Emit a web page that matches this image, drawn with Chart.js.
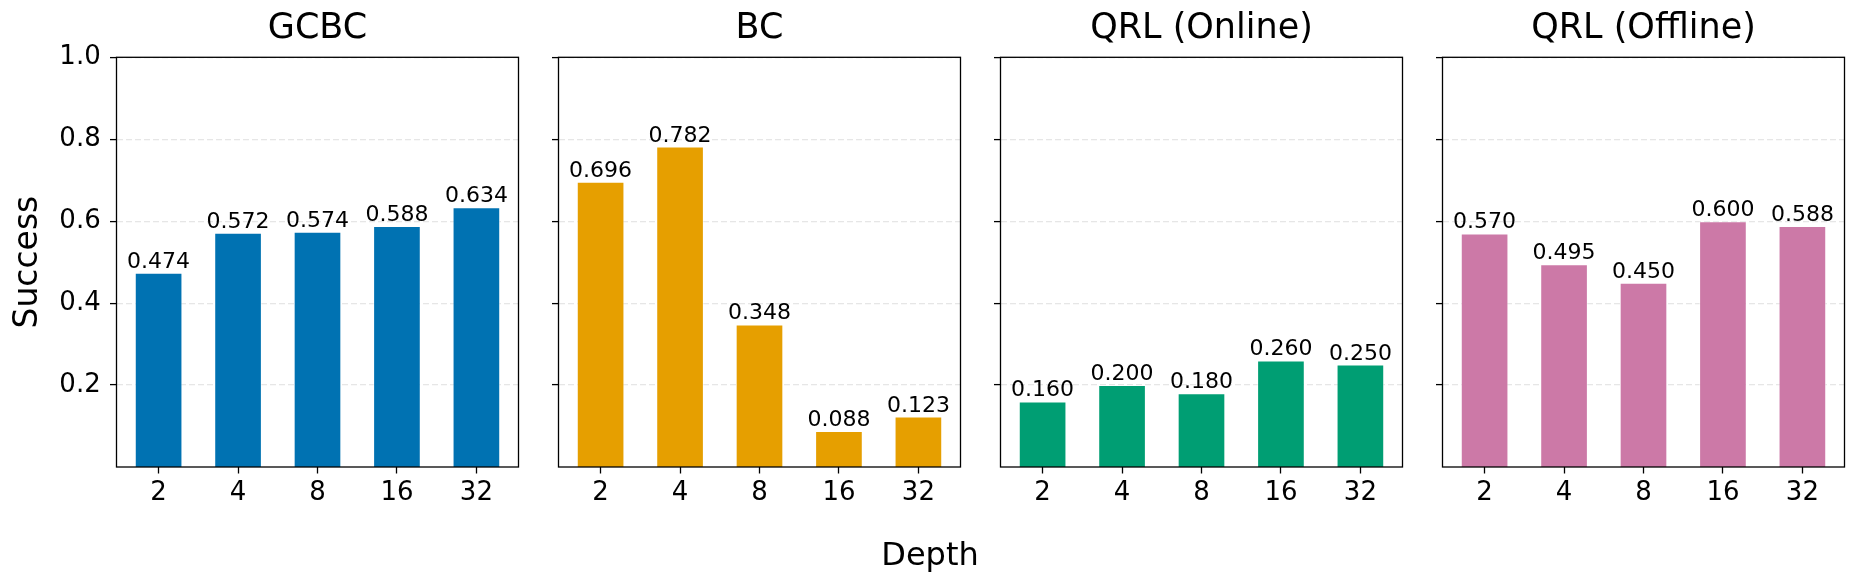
<!DOCTYPE html>
<html>
<head>
<meta charset="utf-8">
<script src="https://cdn.jsdelivr.net/npm/chart.js@4"></script>
<style>
  html, body { margin: 0; padding: 0; background: #fff; }
  #wrap { position: relative; width: 1860px; height: 587px; overflow: hidden; }
  canvas { position: absolute; top: 0; }
  #xlabel {
    position: absolute; left: 0; width: 1860px; top: 538px;
    text-align: center; font-family: "DejaVu Sans"; font-size: 32px; line-height: 32px; color: #000;
  }
</style>
</head>
<body>
<div id="wrap">
  <canvas id="c0" width="540" height="587" style="left:0px"></canvas>
  <canvas id="c1" width="540" height="587" style="left:442px"></canvas>
  <canvas id="c2" width="540" height="587" style="left:884px"></canvas>
  <canvas id="c3" width="540" height="587" style="left:1326px"></canvas>
  <div id="xlabel">Depth</div>
</div>
<script>
// dados do gráfico
const depths = ["2", "4", "8", "16", "32"];
const yTicks = [0.2, 0.4, 0.6, 0.8, 1.0];
const titles = ["GCBC", "BC", "QRL (Online)", "QRL (Offline)"];
const gcbc = [0.474, 0.572, 0.574, 0.588, 0.634];
const bc = [0.696, 0.782, 0.348, 0.088, 0.123];
const qrlOnline = [0.160, 0.200, 0.180, 0.260, 0.250];
const qrlOffline = [0.570, 0.495, 0.450, 0.600, 0.588];
const colors = ["#0072B2", "#E69F00", "#009E73", "#CC79A7"];

const series = [gcbc, bc, qrlOnline, qrlOffline];

Chart.defaults.font.family = "DejaVu Sans";
Chart.defaults.color = "#000";

// título centrado sobre a área do gráfico
const panelTitle = {
  id: "panelTitle",
  afterDraw(chart, args, opts) {
    const { ctx, chartArea: a } = chart;
    ctx.save();
    ctx.font = "35px 'DejaVu Sans'";
    ctx.fillStyle = "#000";
    ctx.textAlign = "center";
    ctx.textBaseline = "middle";
    ctx.fillText(opts.text, (a.left + a.right) / 2, 29);
    ctx.restore();
  }
};

// rótulos de valor acima das barras
const valueLabels = {
  id: "valueLabels",
  afterDatasetsDraw(chart) {
    const ctx = chart.ctx;
    const meta = chart.getDatasetMeta(0);
    const vals = chart.data.datasets[0].data;
    ctx.save();
    ctx.font = "22px 'DejaVu Sans'";
    ctx.fillStyle = "#000";
    ctx.textAlign = "center";
    ctx.textBaseline = "alphabetic";
    meta.data.forEach((bar, i) => {
      ctx.fillText(vals[i].y.toFixed(3), bar.x, bar.y - 5);
    });
    ctx.restore();
  }
};

// moldura em volta da área do gráfico
const spines = {
  id: "spines",
  afterDraw(chart) {
    const { ctx, chartArea: a } = chart;
    ctx.save();
    ctx.strokeStyle = "#000";
    ctx.lineWidth = 1.3;
    ctx.strokeRect(a.left, a.top, a.right - a.left, a.bottom - a.top);
    ctx.restore();
  }
};

function makePanel(idx) {
  const vals = series[idx];
  const ctx = document.getElementById("c" + idx).getContext("2d");
  new Chart(ctx, {
    type: "bar",
    data: {
      datasets: [{
        data: vals.map((v, i) => ({ x: i, y: v })),
        backgroundColor: colors[idx],
        borderColor: "rgba(255,255,255,0.5)",
        borderWidth: { left: 1, right: 1, top: 1, bottom: 0 },
        categoryPercentage: 1,
        barPercentage: 0.6
      }]
    },
    options: {
      responsive: false,
      animation: false,
      events: [],
      layout: { padding: { left: 0, right: 21.5, top: 57.3, bottom: 0 } },
      plugins: {
        legend: { display: false },
        tooltip: { enabled: false },
        title: { display: false },
        panelTitle: { text: titles[idx] }
      },
      scales: {
        x: {
          type: "linear",
          offset: false,
          min: -0.53,
          max: 4.53,
          afterBuildTicks: (scale) => { scale.ticks = depths.map((d, i) => ({ value: i })); },
          afterFit: (scale) => { scale.height = 120; },
          ticks: {
            callback: (v) => depths[v],
            font: { size: 26 },
            padding: 4.6,
            maxRotation: 0,
            autoSkip: false
          },
          grid: {
            display: true,
            offset: false,
            drawOnChartArea: false,
            drawTicks: true,
            tickLength: 6.5,
            tickColor: "#000",
            tickWidth: 1.3
          },
          border: { display: false }
        },
        y: {
          min: 0,
          max: 1,
          afterBuildTicks: (scale) => { scale.ticks = yTicks.map(v => ({ value: v })); },
          afterFit: (scale) => { scale.width = 116.5; },
          ticks: {
            display: idx === 0,
            callback: (v) => v.toFixed(1),
            font: { size: 26 },
            padding: 9.3
          },
          title: {
            display: idx === 0,
            text: "Success",
            color: "#000",
            font: { size: 33, lineHeight: 1 },
            padding: { top: 12.4, bottom: 0 }
          },
          grid: {
            display: true,
            drawOnChartArea: true,
            color: "rgba(200,200,200,0.45)",
            lineWidth: 1.2,
            drawTicks: true,
            tickLength: 6.5,
            tickColor: "#000",
            tickWidth: 1.3,
            tickBorderDash: []
          },
          border: { display: false, dash: [6, 3] }
        }
      }
    },
    plugins: [panelTitle, valueLabels, spines]
  });
}

document.addEventListener("DOMContentLoaded", () => {
  for (let i = 0; i < 4; i++) makePanel(i);
});
</script>
</body>
</html>
